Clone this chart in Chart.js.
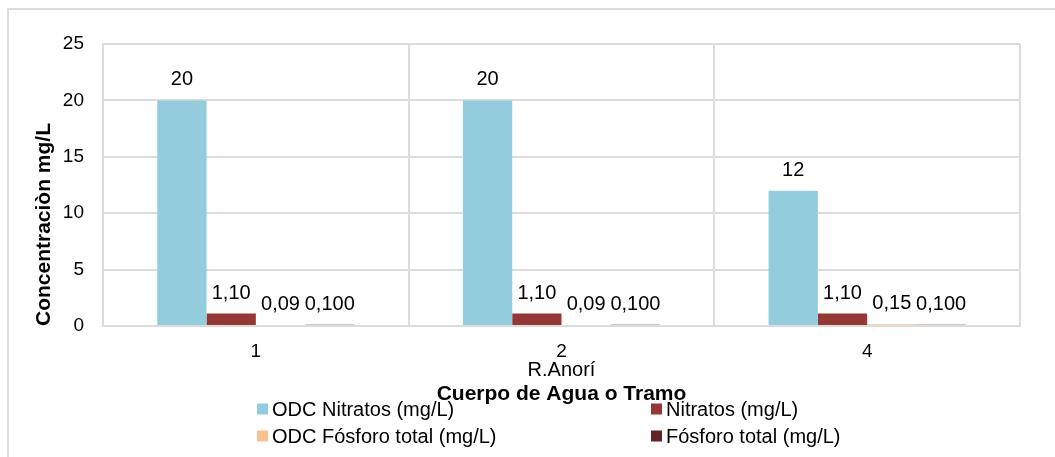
<!DOCTYPE html>
<html>
<head>
<meta charset="utf-8">
<script src="https://cdn.jsdelivr.net/npm/chart.js@4/dist/chart.umd.min.js"></script>
<style>
  html, body { margin: 0; padding: 0; background: #fff; }
  canvas { display: block; }
</style>
</head>
<body>
<canvas id="chart" width="1055" height="457"></canvas>
<script>
// datos del gráfico
const categories = ['1', '2', '4'];
const groupLabel = 'R.Anorí';
const seriesNames = ['ODC Nitratos (mg/L)', 'Nitratos (mg/L)', 'ODC Fósforo total (mg/L)', 'Fósforo total (mg/L)'];
const odcNitratos = [20, 20, 12];
const nitratos = [1.1, 1.1, 1.1];
const odcFosforo = [0.09, 0.09, 0.15];
const fosforo = [0.1, 0.1, 0.1];
const yTicks = [0, 5, 10, 15, 20, 25];

const colors = ['#93CDDD', '#953735', '#FAC090', '#632523'];
const decimals = [0, 2, 2, 3];
const gridColor = '#dcdcdc';

// marco exterior
const framePlugin = {
    id: 'frame',
    beforeDraw(chart) {
        const ctx = chart.ctx;
        ctx.save();
        ctx.fillStyle = '#fff';
        ctx.fillRect(0, 0, chart.width, chart.height);
        ctx.strokeStyle = gridColor;
        ctx.lineWidth = 2;
        ctx.beginPath();
        ctx.moveTo(8, chart.height);
        ctx.lineTo(8, 9);
        ctx.lineTo(chart.width, 9);
        ctx.stroke();
        ctx.restore();
    }
};

// etiquetas de valores, grupo y leyenda
const labelsPlugin = {
    id: 'labels',
    afterDraw(chart) {
        const ctx = chart.ctx;
        ctx.save();
        ctx.fillStyle = '#000';
        ctx.font = '20px "Liberation Sans", Arial, sans-serif';
        ctx.textAlign = 'center';
        ctx.textBaseline = 'alphabetic';
        chart.data.datasets.forEach((ds, i) => {
            chart.getDatasetMeta(i).data.forEach((bar, j) => {
                const txt = ds.data[j].toFixed(decimals[i]).replace('.', ',');
                ctx.fillText(txt, bar.x, bar.y - 15);
            });
        });

        // etiqueta del grupo
        const area = chart.chartArea;
        ctx.font = '20px "Liberation Sans Narrow", "Arial Narrow", sans-serif';
        ctx.textBaseline = 'middle';
        ctx.fillText(groupLabel, (area.left + area.right) / 2, 370);

        // leyenda en dos columnas
        const colX = [257, 651];
        const rowY = [409, 436];
        ctx.font = '20px "Liberation Sans", Arial, sans-serif';
        ctx.textAlign = 'left';
        seriesNames.forEach((name, i) => {
            const x = colX[i % 2];
            const y = rowY[Math.floor(i / 2)];
            ctx.fillStyle = colors[i];
            ctx.fillRect(x, y - 5.5, 11, 11);
            ctx.fillStyle = '#000';
            ctx.fillText(name, x + 15, y + 1);
        });
        ctx.restore();
    }
};

const ctx = document.getElementById('chart').getContext('2d');
new Chart(ctx, {
    type: 'bar',
    data: {
        labels: categories,
        datasets: [
            { label: seriesNames[0], data: odcNitratos, backgroundColor: colors[0] },
            { label: seriesNames[1], data: nitratos, backgroundColor: colors[1] },
            { label: seriesNames[2], data: odcFosforo, backgroundColor: colors[2] },
            { label: seriesNames[3], data: fosforo, backgroundColor: colors[3] }
        ]
    },
    options: {
        responsive: false,
        animation: false,
        devicePixelRatio: 1,
        barPercentage: 1,
        categoryPercentage: 0.645,
        layout: { padding: { top: 44, right: 35, bottom: 50, left: 0 } },
        plugins: {
            legend: { display: false },
            tooltip: { enabled: false }
        },
        scales: {
            x: {
                afterFit: (s) => { s.height = 81; },
                grid: { color: gridColor, lineWidth: 2, drawTicks: false, offset: true },
                border: { color: gridColor, width: 2 },
                ticks: { color: '#000', padding: 14, font: { family: '"Liberation Sans", Arial, sans-serif', size: 19 } },
                title: {
                    display: true,
                    text: 'Cuerpo de Agua o Tramo',
                    color: '#000',
                    padding: { top: 0, bottom: 0 },
                    font: { family: '"Liberation Sans", Arial, sans-serif', size: 21, weight: 'bold' }
                }
            },
            y: {
                min: yTicks[0],
                max: yTicks[yTicks.length - 1],
                afterFit: (s) => { s.width = 103; },
                afterBuildTicks: (s) => { s.ticks = yTicks.map(v => ({ value: v })); },
                grid: { color: gridColor, lineWidth: 2, drawTicks: false },
                border: { color: gridColor, width: 2 },
                ticks: { color: '#000', padding: 19, font: { family: '"Liberation Sans", Arial, sans-serif', size: 19 } },
                title: {
                    display: true,
                    text: 'Concentraciòn mg/L',
                    color: '#000',
                    align: 'start',
                    padding: { top: 32, bottom: 0 },
                    font: { family: '"Liberation Sans", Arial, sans-serif', size: 21, weight: 'bold' }
                }
            }
        }
    },
    plugins: [framePlugin, labelsPlugin]
});
</script>
</body>
</html>
